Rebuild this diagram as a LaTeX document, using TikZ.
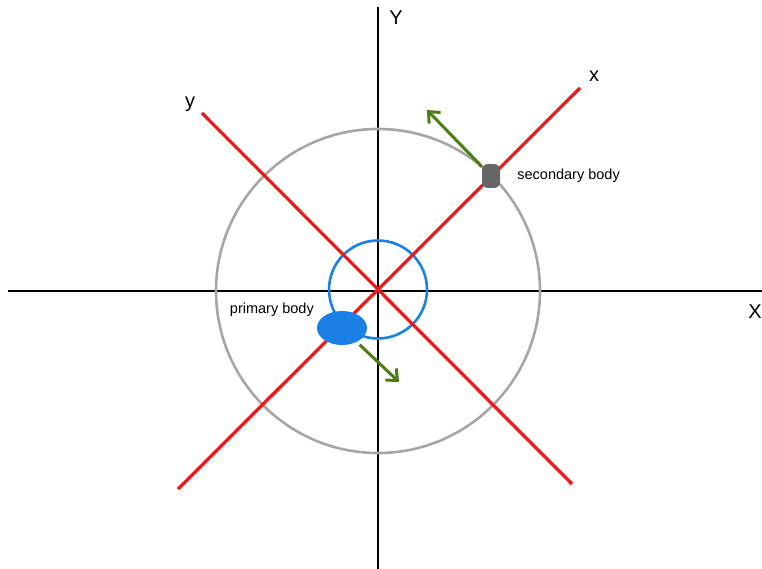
\documentclass[tikz,border=0pt]{standalone}
\usepackage{fontspec}
\setmainfont{Liberation Sans}
\definecolor{AxisRed}{HTML}{F01818}
\definecolor{OrbitGray}{HTML}{A6A6A6}
\definecolor{OrbitBlue}{HTML}{1A80E6}
\definecolor{BodyGray}{HTML}{666666}
\definecolor{VelGreen}{HTML}{4A7F12}
\usetikzlibrary{arrows.meta,positioning,shapes.geometric}

\begin{document}
\begin{tikzpicture}[x=1pt, y=-1pt, every node/.style={inner sep=0pt}, axis/.style={line width=2.7pt, black}, rotaxis/.style={line width=3.2pt, AxisRed}, axislabel/.style={font=\fontsize{20}{22}\selectfont}, bodylabel/.style={font=\fontsize{14.5}{16}\selectfont}, vel/.style={-{Straight Barb[length=9pt,width=16pt]}, line width=3pt, VelGreen}]
        \useasboundingbox (0,0) rectangle (762,569);
        \coordinate (O) at (378,291);
        \coordinate (Xw) at (8,291);
        \coordinate (Xe) at (762,291);
        \coordinate (Yn) at (378,7);
        \coordinate (Ys) at (378,569);
        \coordinate (xsw) at (178,489);
        \coordinate (xne) at (580,88);
        \coordinate (ynw) at (202,113);
        \coordinate (yse) at (572,484);

        % fixed frame
        \draw[axis] (Xw) -- (Xe);
        \draw[axis] (Yn) -- (Ys);
        \node[axislabel, anchor=east] (Xlab) at (762,312) {X};
        \node[axislabel] (Ylab) at (396,18) {Y};

        % orbits
        \draw[OrbitGray, line width=2.6pt] (O) circle[radius=162];
        \draw[OrbitBlue, line width=2.6pt] (378,289.5) circle[radius=49];

        % rotating frame
        \draw[rotaxis] (xsw) -- (xne);
        \draw[rotaxis] (ynw) -- (yse);
        \node[axislabel] (xlab) at (594,76) {x};
        \node[axislabel] (ylab) at (190,104) {y};

        % bodies
        \node[ellipse, fill=OrbitBlue, minimum width=50pt, minimum height=34pt] (primary) at (342,328) {};
        \node[fill=BodyGray, rounded corners=6pt, minimum width=18pt, minimum height=24pt] (secondary) at (491,176) {};
        \node[bodylabel, anchor=east] (primarylab) at (314,310) {primary body};
        \node[bodylabel, right=17pt of secondary] (secondarylab) {secondary body};

        \coordinate (vprim) at (399,382);
        \coordinate (vsec) at (427,110);
        \draw[vel, shorten <=4pt] (primary) -- (vprim);
        \draw[vel] (secondary) -- (vsec);
    \end{tikzpicture}
\end{document}
